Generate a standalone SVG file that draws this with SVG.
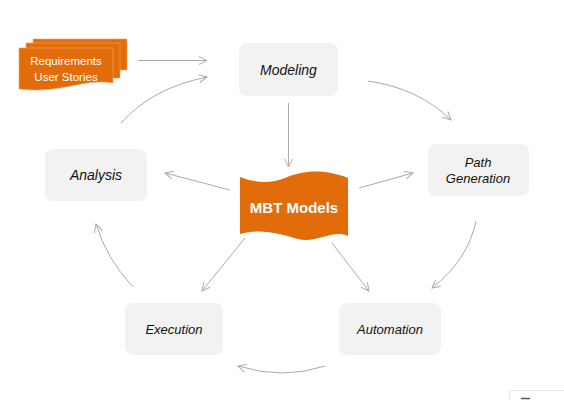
<svg xmlns="http://www.w3.org/2000/svg" width="564" height="400" viewBox="0 0 564 400">
<style>
.box{fill:#f2f2f2;}
.lbl{font-family:"Liberation Sans",Arial,sans-serif;font-style:italic;fill:#111;text-anchor:middle;}
.org{fill:#e36c0a;}
.doc{stroke:#f3a766;stroke-width:0.6;}
.wt{font-family:"Liberation Sans",Arial,sans-serif;fill:#fff;text-anchor:middle;}
.con{fill:none;stroke:#ababab;stroke-width:1;marker-end:url(#ah);}
</style>
<defs>
<marker id="ah" markerUnits="userSpaceOnUse" markerWidth="12" markerHeight="12" refX="9" refY="5" orient="auto" viewBox="0 0 12 10">
<path d="M1,1 L9,5 L1,9" fill="none" stroke="#ababab" stroke-width="1"/>
</marker>
</defs>
<rect width="564" height="400" fill="#fff"/>
<g id="connectors">
<path class="con" d="M138,60.5 L207,60.5"/>
<path class="con" d="M121,123 Q152,88 207,77"/>
<path class="con" d="M368,81 Q418,88 451,120"/>
<path class="con" d="M476,221 Q468,260 432,288"/>
<path class="con" d="M325,366 Q283,380 238,366"/>
<path class="con" d="M133,287 Q106,258 96,224"/>
<path class="con" d="M288.5,103 L288.5,167"/>
<path class="con" d="M230,190 L165,173"/>
<path class="con" d="M359,188 L413,173"/>
<path class="con" d="M245,238 L202,291"/>
<path class="con" d="M332,243 L369,291"/>
</g>
<g id="requirements">
<path class="org doc" d="M33,39 H127 V70 H33 Z"/>
<path class="org doc" d="M26,43 H120 V78 H26 Z"/>
<path class="org doc" d="M19,48 H113 V83 C96,80 82,84 66,87 C50,90 35,91 19,89 Z"/>
<text class="wt" x="66" y="65" font-size="11.5">Requirements</text>
<text class="wt" x="66" y="80.5" font-size="11.5">User Stories</text>
</g>
<g id="modeling">
<rect class="box" x="239" y="43" width="99" height="53" rx="8"/>
<text class="lbl" x="288.5" y="75" font-size="14">Modeling</text>
</g>
<g id="path-generation">
<rect class="box" x="428" y="144" width="101" height="52" rx="8"/>
<text class="lbl" x="478" y="166.5" font-size="13">Path</text>
<text class="lbl" x="478" y="182.5" font-size="13">Generation</text>
</g>
<g id="analysis">
<rect class="box" x="45" y="149" width="102" height="52" rx="8"/>
<text class="lbl" x="96" y="180" font-size="14">Analysis</text>
</g>
<g id="execution">
<rect class="box" x="125" y="303" width="98" height="52" rx="8"/>
<text class="lbl" x="174" y="333.5" font-size="13">Execution</text>
</g>
<g id="automation">
<rect class="box" x="339" y="303" width="102" height="52" rx="8"/>
<text class="lbl" x="390" y="333.5" font-size="13">Automation</text>
</g>
<g id="mbt-models">
<path class="org" d="M240,177 C256,183 270,184 285,178 C302,171 322,168 348,178 L348,236 C332,229 316,244 298,239 C280,234 262,228 240,234 Z"/>
<text class="wt" x="294" y="212.5" font-size="15" font-weight="bold">MBT Models</text>
</g>
<rect x="509.5" y="390.5" width="60" height="20" fill="#fff" stroke="#e6e6e6" stroke-width="1"/>
<path d="M521,398.5 H530" stroke="#555" stroke-width="1.5"/>
</svg>
